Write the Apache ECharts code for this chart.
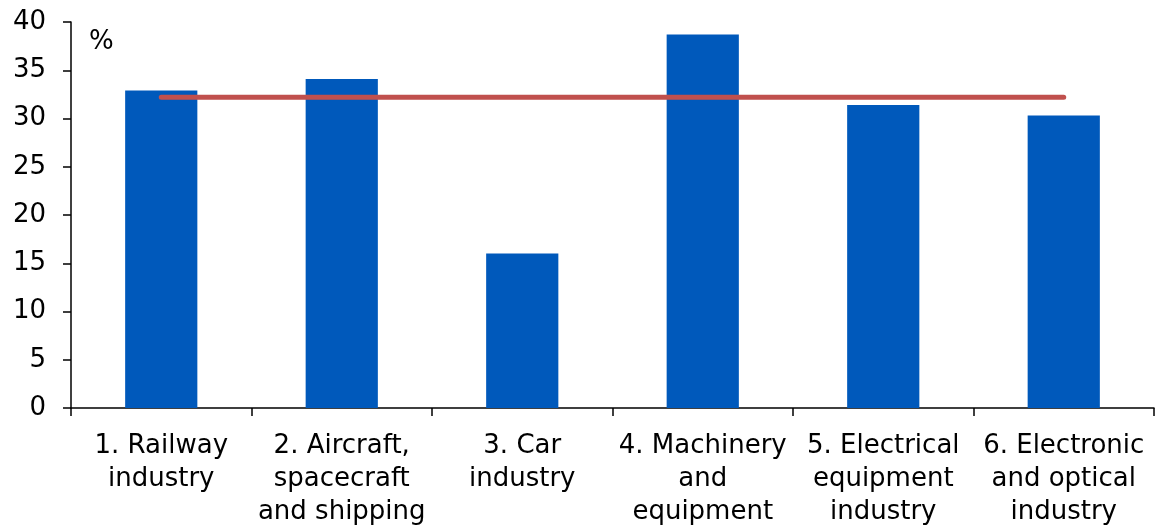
<!DOCTYPE html>
<html>
<head>
<meta charset="utf-8">
<script src="https://cdn.jsdelivr.net/npm/echarts@6/dist/echarts.min.js"></script>
<style>
  html, body { margin: 0; padding: 0; background: #fff; }
  #chart { width: 1158px; height: 529px; }
</style>
</head>
<body>
<div id="chart"></div>
<script>
// Industry categories (x axis)
const categories = [
  '1. Railway\nindustry',
  '2. Aircraft,\nspacecraft\nand shipping',
  '3. Car\nindustry',
  '4. Machinery\nand\nequipment',
  '5. Electrical\nequipment\nindustry',
  '6. Electronic\nand optical\nindustry'
];
// Share per industry, %
const shares = [32.9, 34.1, 16.0, 38.7, 31.4, 30.3];
// Average across industries, %
const average = [32.2, 32.2, 32.2, 32.2, 32.2, 32.2];
// Y axis range
const yTicks = { min: 0, max: 40, step: 5 };

const font = 'DejaVu Sans, Verdana, sans-serif';
const chart = echarts.init(document.getElementById('chart'));
chart.setOption({
  animation: false,
  backgroundColor: '#fff',
  grid: { left: 71, right: 4, top: 22, bottom: 116, containLabel: false },
  graphic: [{
    type: 'text', left: 89, top: 29,
    style: { text: '%', font: '26px ' + font, fill: '#000' }
  }],
  xAxis: {
    type: 'category',
    data: categories,
    boundaryGap: true,
    axisLine: { lineStyle: { color: '#000', width: 1.5 } },
    axisTick: { show: true, length: 8, interval: 0, lineStyle: { color: '#000', width: 1.5 } },
    axisLabel: {
      interval: 0, margin: 22, color: '#000',
      fontFamily: font, fontSize: 26, lineHeight: 33
    },
    splitLine: { show: false }
  },
  yAxis: {
    type: 'value',
    min: yTicks.min, max: yTicks.max, interval: yTicks.step,
    axisLine: { show: true, lineStyle: { color: '#000', width: 1.5 } },
    axisTick: { show: true, length: 8, lineStyle: { color: '#000', width: 1.5 } },
    axisLabel: { margin: 25, color: '#000', fontFamily: font, fontSize: 26 },
    splitLine: { show: false }
  },
  series: [
    {
      type: 'bar',
      data: shares,
      barWidth: '40%',
      itemStyle: { color: '#0059BB' }
    },
    {
      type: 'line',
      data: average,
      symbol: 'none',
      lineStyle: { color: '#C0504D', width: 5, cap: 'round' },
      z: 5
    }
  ]
});
</script>
</body>
</html>
